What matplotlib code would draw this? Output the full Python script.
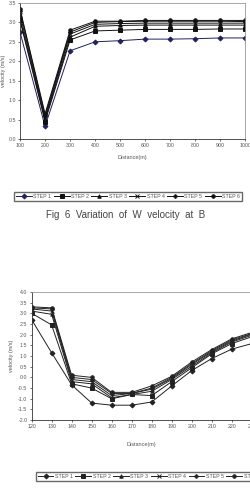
import matplotlib.pyplot as plt
import numpy as np

# top chart: W velocity at B along distance
dist_top = [100, 200, 300, 400, 500, 600, 700, 800, 900, 1000]
top_step1 = [2.75, 0.33, 2.27, 2.50, 2.53, 2.57, 2.57, 2.58, 2.60, 2.60]
top_step2 = [3.05, 0.45, 2.55, 2.78, 2.80, 2.82, 2.82, 2.82, 2.83, 2.83]
top_step3 = [3.10, 0.50, 2.62, 2.90, 2.92, 2.93, 2.93, 2.93, 2.93, 2.93]
top_step4 = [3.20, 0.55, 2.70, 2.95, 2.97, 2.98, 2.98, 2.98, 2.98, 2.98]
top_step5 = [3.30, 0.60, 2.75, 3.00, 3.02, 3.03, 3.03, 3.03, 3.03, 3.02]
top_step6 = [3.35, 0.65, 2.80, 3.03, 3.03, 3.05, 3.05, 3.05, 3.05, 3.05]

# bottom chart
dist_bot = [120, 130, 140, 150, 160, 170, 180, 190, 200, 210, 220, 230]
bot_step1 = [2.70, 1.15, -0.35, -1.20, -1.30, -1.30, -1.15, -0.40, 0.32, 0.88, 1.32, 1.58]
bot_step2 = [3.00, 2.45, -0.30, -0.50, -1.00, -0.80, -0.85, -0.20, 0.45, 1.10, 1.58, 1.90]
bot_step3 = [3.10, 2.95, -0.20, -0.30, -0.95, -0.80, -0.65, -0.10, 0.52, 1.15, 1.65, 1.97]
bot_step4 = [3.20, 3.10, -0.10, -0.20, -0.85, -0.75, -0.55, -0.05, 0.60, 1.20, 1.70, 2.02]
bot_step5 = [3.25, 3.20, 0.00, -0.10, -0.75, -0.75, -0.50, 0.00, 0.65, 1.25, 1.75, 2.05]
bot_step6 = [3.30, 3.25, 0.10, 0.00, -0.70, -0.70, -0.40, 0.05, 0.72, 1.30, 1.80, 2.10]

labels = ["STEP 1", "STEP 2", "STEP 3", "STEP 4", "STEP 5", "STEP 6"]
markers = ["D", "s", "^", "x", "P", "o"]

plt.rcParams['font.family'] = ['Liberation Sans', 'DejaVu Sans']
txt = "#555555"

fig = plt.figure(figsize=(2.51, 4.88), dpi=100)

def style(ax):
    for s in ["top", "right"]:
        ax.spines[s].set_color("#999999")
    for s in ["left", "bottom"]:
        ax.spines[s].set_color("#333333")
    for s in ax.spines.values():
        s.set_linewidth(0.6)
    ax.tick_params(labelsize=3.8, colors="#333333", labelcolor=txt, length=1.5, width=0.5, pad=1.5)

leg_kw = dict(ncol=6, fontsize=3.8, handlelength=3.0, handletextpad=0.3, columnspacing=0.45,
              borderpad=0.35, frameon=True, fancybox=False, edgecolor="#444444", labelcolor=txt)

# --- top ---
ax1 = fig.add_axes([0.0797, 0.715, 0.898, 0.279])
tops = [top_step1, top_step2, top_step3, top_step4, top_step5, top_step6]
for i, ys in enumerate(tops):
    c = "#202060" if i == 0 else "#111111"
    ax1.plot(dist_top, ys, color=c, lw=0.7, marker=markers[i], ms=2.5, mew=0.7, label=labels[i])
ax1.set_xlim(100, 1000)
ax1.set_ylim(0, 3.5)
ax1.set_xticks(dist_top)
ax1.set_yticks(np.arange(0, 3.51, 0.5))
ax1.set_yticklabels(["%.1f" % v for v in np.arange(0, 3.51, 0.5)])
style(ax1)
ax1.set_xlabel("Distance(m)", fontsize=4.0, color=txt, labelpad=5)
ax1.set_ylabel("velocity (m/s)", fontsize=4.0, color=txt, labelpad=2)

h1, l1 = ax1.get_legend_handles_labels()
fig.legend(h1, l1, loc="center", bbox_to_anchor=(0.51, 0.598), **leg_kw)

fig.text(0.5, 0.559, "Fig  6  Variation  of  W  velocity  at  B", ha="center", va="center",
         fontsize=7.0, color="#444444")

# --- bottom ---
ax2 = fig.add_axes([0.126, 0.139, 0.877, 0.263])
bots = [bot_step1, bot_step2, bot_step3, bot_step4, bot_step5, bot_step6]
for i, ys in enumerate(bots):
    ax2.plot(dist_bot, ys, color="#222222", lw=0.7, marker=markers[i], ms=2.5, mew=0.7, label=labels[i])
ax2.set_xlim(120, 230)
ax2.set_ylim(-2.0, 4.0)
ax2.set_xticks(dist_bot)
ax2.set_yticks(np.arange(-2.0, 4.01, 0.5))
ax2.set_yticklabels(["%.1f" % v for v in np.arange(-2.0, 4.01, 0.5)])
style(ax2)
ax2.set_xlabel("Distance(m)", fontsize=4.0, color=txt, labelpad=9)
ax2.set_ylabel("velocity (m/s)", fontsize=4.0, color=txt, labelpad=3)

h2, l2 = ax2.get_legend_handles_labels()
fig.legend(h2, l2, loc="center left", bbox_to_anchor=(0.132, 0.024), **leg_kw)

fig.savefig("out.png", dpi=100)
